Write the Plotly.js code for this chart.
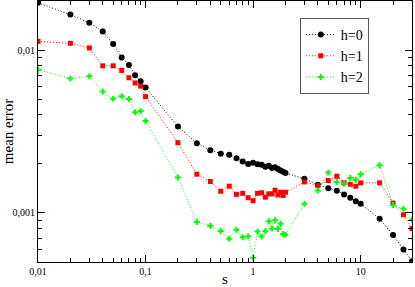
<!DOCTYPE html>
<html>
<head>
<meta charset="utf-8">
<script src="https://cdn.plot.ly/plotly-3.0.1.min.js"></script>
<style>html,body{margin:0;padding:0;background:#fff;}#chart{width:415px;height:287px;}</style>
</head>
<body>
<div id="chart"></div>
<script>
var s = [0.01,0.02,0.03,0.04,0.05,0.06,0.07,0.08,0.09,0.1,
         0.2,0.3,0.4,0.5,0.6,0.7,0.8,0.9,1.0,
         1.1,1.2,1.3,1.4,1.5,1.6,1.7,1.8,1.9,2.0,
         3,4,5,6,7,8,9,10,15,20,25,30];
var h0 = [0.0195,0.0165,0.0147,0.0130,0.0109,0.0090,0.0081,0.0070,0.00643,0.00588,
          0.00339,0.00268,0.00243,0.00231,0.00228,0.00217,0.00207,0.00200,0.00203,
          0.00199,0.00198,0.00192,0.00195,0.00189,0.00191,0.00186,0.00182,0.00179,0.00176,
          0.00162,0.00149,0.00142,0.00137,0.00130,0.00124,0.00118,0.00114,0.00092,0.000732,0.000597,0.000505];
var h1 = [0.0113,0.0110,0.0103,0.0080,0.0080,0.0075,0.00676,0.00628,0.0060,0.00518,
          0.0027,0.00173,0.00156,0.00136,0.00146,0.00130,0.00132,0.00124,0.00119,
          0.00132,0.00133,0.00125,0.00131,0.00131,0.00138,0.00129,0.00134,0.00128,0.00134,
          0.00155,0.00147,0.00158,0.00168,0.00153,0.00150,0.00146,0.00153,0.00153,0.00115,0.000975,0.000802];
var h2 = [0.00757,0.0067,0.0069,0.00556,0.00503,0.0052,0.00501,0.00415,0.00423,0.00367,
          0.00165,0.00088,0.000836,0.000774,0.000695,0.00079,0.00071,0.00072,0.000531,
          0.000769,0.000716,0.000771,0.000889,0.000802,0.000902,0.000797,0.00086,0.000743,0.000736,
          0.00114,0.001375,0.00177,0.00155,0.00151,0.00164,0.0016,0.00173,0.00196,0.00112,0.00106,0.00091];
var seriesNames = ["h=0","h=1","h=2"];
var xTickVals = [0.01,0.1,1,10];
var xTickText = ["0,01","0,1","1","10"];
var yTickVals = [0.001,0.01];
var yTickText = ["0,001","0,01"];

function minorVals(lo, hi) {
  var out = [];
  for (var e = lo; e <= hi; e++) {
    for (var m = 2; m <= 9; m++) out.push(m * Math.pow(10, e));
  }
  return out;
}

var font = "Liberation Serif, Times New Roman, serif";
var dotted = "1px,2px";
var traces = [
  {x: s, y: h0, name: seriesNames[0], type: "scatter", mode: "lines+markers",
   line: {color: "#000000", width: 1, dash: dotted},
   marker: {symbol: "circle", size: 6, color: "#000000"}},
  {x: s, y: h1, name: seriesNames[1], type: "scatter", mode: "lines+markers",
   line: {color: "#ff0000", width: 1, dash: dotted},
   marker: {symbol: "square", size: 5, color: "#ff0000"}},
  {x: s, y: h2, name: seriesNames[2], type: "scatter", mode: "lines+markers",
   line: {color: "#00ff00", width: 1, dash: dotted},
   marker: {symbol: "cross", size: 5, color: "#00ff00"}}
];

var axisCommon = {
  type: "log", showgrid: false, zeroline: false,
  showline: true, linecolor: "#000", linewidth: 1, mirror: "allticks",
  ticks: "inside", ticklen: 7, tickwidth: 1, tickcolor: "#000",
  tickfont: {family: font, size: 10, color: "#000"}
};

var layout = {
  width: 415, height: 287,
  margin: {l: 38, r: 3, t: 1, b: 25},
  paper_bgcolor: "#fff", plot_bgcolor: "#fff",
  separators: ",.",
  font: {family: font, color: "#000"},
  showlegend: true,
  legend: {x: 0.70, y: 0.935, xanchor: "left", yanchor: "top",
           bgcolor: "#fff", bordercolor: "#555", borderwidth: 1,
           font: {family: font, size: 14, color: "#000"},
           itemwidth: 30, tracegroupgap: 0},
  xaxis: Object.assign({}, axisCommon, {
    range: [Math.log10(0.01), Math.log10(30)],
    tickmode: "array", tickvals: xTickVals, ticktext: xTickText,
    minor: {tickmode: "array", tickvals: minorVals(-2, 1), ticks: "inside", ticklen: 4, tickcolor: "#000"},
    title: {text: "s", font: {family: font, size: 15, color: "#000"}, standoff: 2}
  }),
  yaxis: Object.assign({}, axisCommon, {
    range: [Math.log10(0.0005), Math.log10(0.02)],
    tickmode: "array", tickvals: yTickVals, ticktext: yTickText,
    minor: {tickmode: "array", tickvals: minorVals(-4, -2), ticks: "inside", ticklen: 4, tickcolor: "#000"},
    title: {text: "mean error", font: {family: font, size: 15, color: "#000"}, standoff: 2}
  })
};

Plotly.newPlot("chart", traces, layout, {displayModeBar: false, staticPlot: true});
</script>
</body>
</html>
